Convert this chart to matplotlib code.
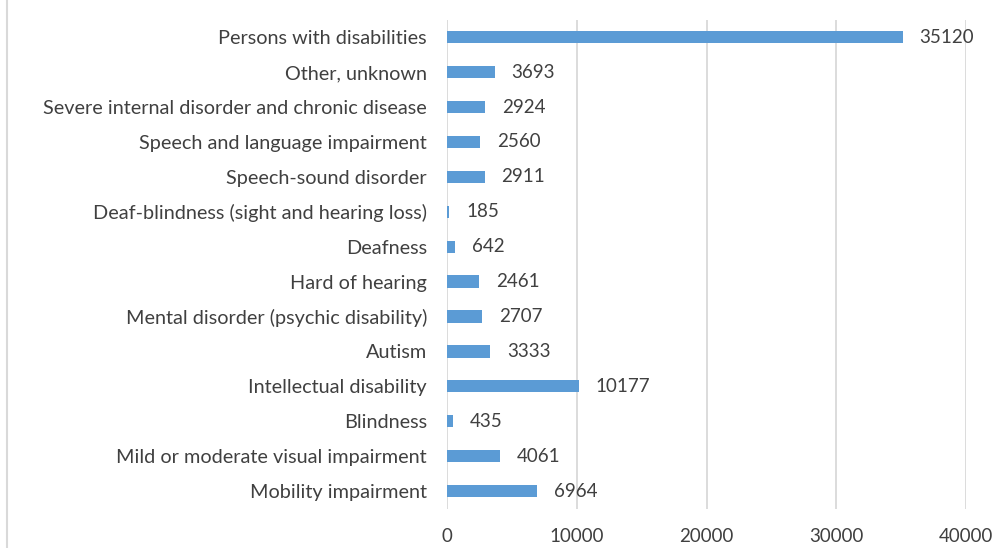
"""
disability categories bar chart
"""

import matplotlib
matplotlib.use("Agg")
import matplotlib.pyplot as plt
from matplotlib.lines import Line2D

categories = [
    "Mobility impairment",
    "Mild or moderate visual impairment",
    "Blindness",
    "Intellectual disability",
    "Autism",
    "Mental disorder (psychic disability)",
    "Hard of hearing",
    "Deafness",
    "Deaf-blindness (sight and hearing loss)",
    "Speech-sound disorder",
    "Speech and language impairment",
    "Severe internal disorder and chronic disease",
    "Other, unknown",
    "Persons with disabilities",
]
values = [6964, 4061, 435, 10177, 3333, 2707, 2461, 642, 185, 2911, 2560, 2924, 3693, 35120]
x_ticks = [0, 10000, 20000, 30000, 40000]

plt.rcParams["font.family"] = ["Lato", "DejaVu Sans"]
text_color = "#404040"

fig = plt.figure(figsize=(10.01, 5.48), dpi=100)
ax = fig.add_axes([0.4466, 0.072, 0.5185, 0.892])

ax.barh(range(len(categories)), values, height=0.35, color="#5B9BD5", zorder=3)
for i, v in enumerate(values):
    ax.annotate(str(v), (v, i), xytext=(12, 0), textcoords="offset points",
                va="center", ha="left", fontsize=13.5, color=text_color)

ax.set_xlim(0, 40000)
ax.set_ylim(-0.5, len(categories) - 0.5)
ax.set_xticks(x_ticks)
ax.set_xticklabels([str(t) for t in x_ticks])
ax.set_yticks(range(len(categories)))
ax.set_yticklabels(categories)
ax.tick_params(axis="both", length=0, colors=text_color)
ax.tick_params(axis="x", pad=14, labelsize=13.5)
ax.tick_params(axis="y", pad=14.5, labelsize=14.3)
ax.grid(axis="x", color="#D9D9D9", linewidth=1.3, zorder=0)
for s in ax.spines.values():
    s.set_visible(False)

# chart border visible on left edge
fig.add_artist(Line2D([0.007, 0.007], [0, 1], color="#D9D9D9", linewidth=1.5,
                      transform=fig.transFigure))

plt.savefig("out.png", dpi=100)
